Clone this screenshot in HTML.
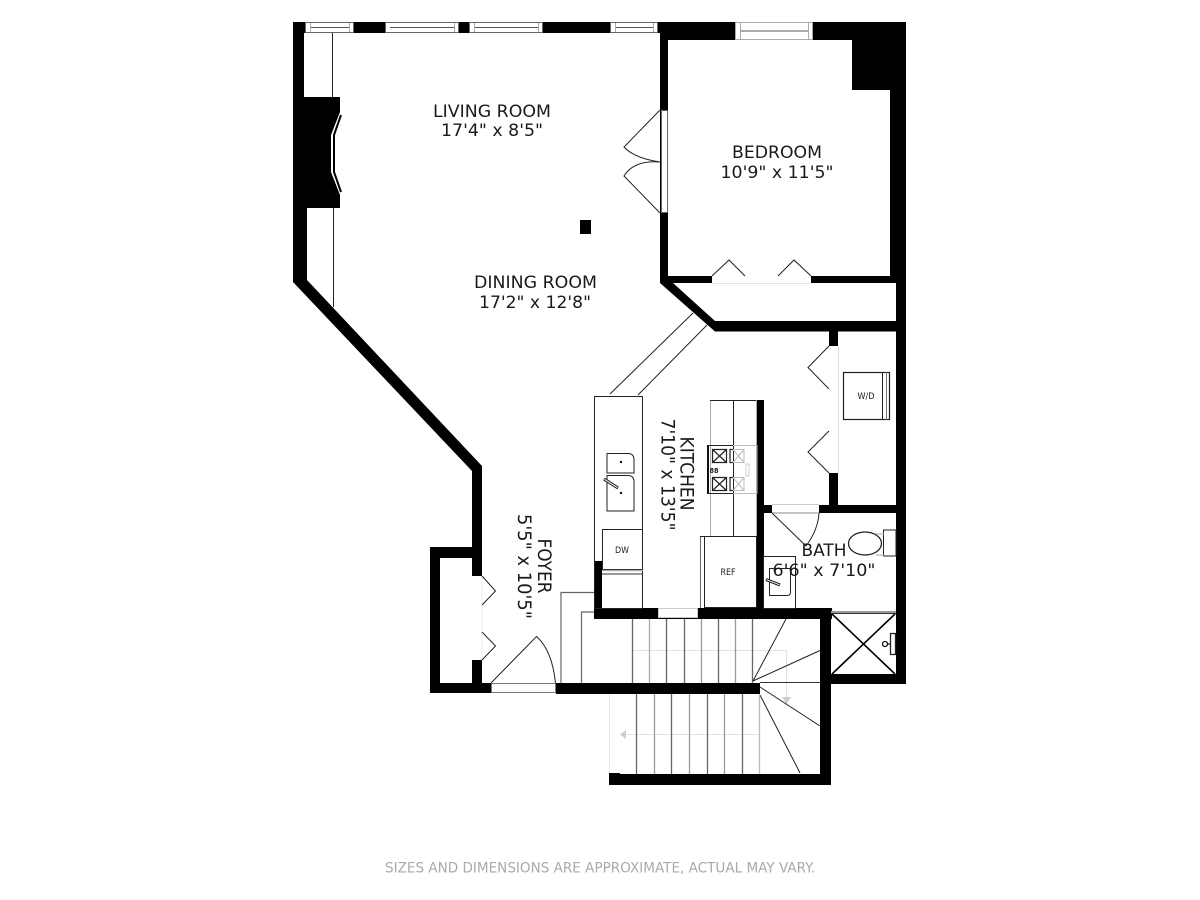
<!DOCTYPE html>
<html><head><meta charset="utf-8"><style>
html,body{margin:0;padding:0;background:#fff;width:1200px;height:900px;overflow:hidden}
svg{display:block}
text{font-family:"DejaVu Sans",sans-serif;fill:#1a1a1a;text-anchor:middle}
</style></head><body>
<svg width="1200" height="900" viewBox="0 0 1200 900" xmlns="http://www.w3.org/2000/svg">
<rect width="1200" height="900" fill="#fff"/>
<!-- walls -->
<g fill="#000">
<rect x="293" y="22" width="613" height="11"/>
<rect x="660" y="22" width="246" height="18"/>
<rect x="852" y="22" width="54" height="68"/>
<rect x="890" y="22" width="16" height="261"/>
<rect x="896" y="283" width="10" height="401"/>
<rect x="293" y="22" width="11" height="80"/>
<rect x="293" y="97" width="47" height="111"/>
<rect x="293" y="208" width="14" height="74"/>
<polygon points="293,280 307,280 482,466 482,683 472,683 472,471 293,282"/>
<rect x="660" y="22" width="8" height="261"/>
<rect x="660" y="276" width="236" height="7"/>
<polygon points="660,283 673,283 715,321 896,321 896,331.500 715,331.500"/>
<rect x="829" y="331" width="9" height="15"/>
<rect x="829" y="473" width="9" height="35"/>
<rect x="756" y="505" width="140" height="8"/>
<rect x="756" y="400" width="8" height="215"/>
<rect x="594" y="608" width="238" height="11"/>
<rect x="594" y="561" width="8" height="58"/>
<rect x="430" y="547" width="52" height="11"/>
<rect x="430" y="547" width="10" height="146"/>
<rect x="430" y="683" width="61" height="10"/>
<rect x="556" y="683" width="204" height="11"/>
<rect x="820" y="608" width="11" height="177"/>
<rect x="609" y="774" width="222" height="11"/>
<rect x="609" y="773" width="11" height="12"/>
<rect x="831" y="674" width="75" height="10"/>
<rect x="580" y="220" width="11" height="14"/>
</g>
<!-- openings -->
<g fill="#fff">
<polygon points="340,112 331,135 331,172 340,195 341,195 341,112"/>
<rect x="661" y="110" width="7" height="103"/>
<rect x="712" y="275" width="99" height="9"/>
<rect x="829" y="346" width="9" height="127"/>
<rect x="772" y="504" width="47" height="10"/>
<rect x="472" y="576" width="10" height="84"/>
<rect x="491" y="683" width="65" height="10"/>
<rect x="658" y="608" width="40" height="10"/>
</g>
<polyline points="341,115 334,135 334,172 341,192" fill="none" stroke="#000" stroke-width="2"/>
<g stroke="#999" stroke-width="1" fill="none">
<line x1="712" y1="283.500" x2="811" y2="283.500" stroke="#e4e4e4"/>
<line x1="838.500" y1="346" x2="838.500" y2="473" stroke="#ddd"/>
<line x1="772" y1="504.500" x2="819" y2="504.500" stroke="#ccc"/>
<line x1="772" y1="513" x2="819" y2="513" stroke="#888"/>
<rect x="491.500" y="683.500" width="64" height="9" stroke="#777"/>
<rect x="658.500" y="608.500" width="39" height="9" stroke="#ccc"/>
<rect x="661.500" y="110.500" width="6" height="102" stroke="#666"/>
<line x1="482" y1="576" x2="482" y2="660" stroke="#eee"/>
</g>
<!-- windows -->
<g>
<g fill="#fff" stroke="#666" stroke-width="1">
<rect x="305.500" y="22.500" width="48" height="10"/>
<rect x="385.500" y="22.500" width="73" height="10"/>
<rect x="469.500" y="22.500" width="73" height="10"/>
<rect x="610.500" y="22.500" width="47" height="10"/>
<rect x="735.500" y="22.500" width="77" height="17" stroke="#aaa"/>
</g>
<g stroke="#555" stroke-width="1">
<line x1="310" y1="27.500" x2="349" y2="27.500"/><line x1="310.500" y1="23" x2="310.500" y2="32" stroke="#aaa"/><line x1="349.500" y1="23" x2="349.500" y2="32" stroke="#aaa"/>
<line x1="390" y1="27.500" x2="454" y2="27.500"/><line x1="454.500" y1="23" x2="454.500" y2="32" stroke="#aaa"/>
<line x1="474" y1="27.500" x2="538" y2="27.500"/><line x1="474.500" y1="23" x2="474.500" y2="32" stroke="#aaa"/><line x1="538.500" y1="23" x2="538.500" y2="32" stroke="#aaa"/>
<line x1="615" y1="27.500" x2="653" y2="27.500"/><line x1="615.500" y1="23" x2="615.500" y2="32" stroke="#aaa"/><line x1="653.500" y1="23" x2="653.500" y2="32" stroke="#aaa"/>
<line x1="740" y1="31" x2="808" y2="31"/><line x1="740.500" y1="23" x2="740.500" y2="39" stroke="#aaa"/><line x1="808.500" y1="23" x2="808.500" y2="39" stroke="#aaa"/>
</g>
</g>
<!-- thin lines -->
<g stroke="#222" stroke-width="1" fill="none">
<line x1="332.500" y1="33" x2="332.500" y2="97"/>
<line x1="333.500" y1="208" x2="333.500" y2="307"/>
<line x1="610" y1="394" x2="693" y2="313"/>
<line x1="638" y1="395" x2="707" y2="325"/>
<!-- bedroom doors -->
<path d="M660,110 L624,147 Q634,158 660,162 Q634,160 624,176 L660,213"/>
<path d="M712,276 L729,260 L745,276"/>
<path d="M778,276 L794,260 L811,276"/>
<!-- closet doors -->
<path d="M829,346 L808,367.500 L829,389"/>
<path d="M829,431 L808,452 L829,473"/>
<!-- bath door -->
<path d="M772,513 L806,546 Q818,530 819,513"/>
<!-- foyer doors -->
<path d="M482,576 L495.500,591 L482,605"/>
<path d="M482,632 L495.500,646 L482,660"/>
<path d="M491,683 L536.500,636.500 Q552,650 555.500,683"/>
<!-- kitchen counter -->
<rect x="594.500" y="396.500" width="48" height="212"/>
<path d="M607,453.500 H628 Q634,453.500 634,460 V473 H607 Z" />
<path d="M607,475.500 H628 Q634,475.500 634,482 V511 H607 Z"/>
<!-- island -->
<rect x="710.500" y="400.500" width="46" height="136" stroke="#aaa" fill="none"/>
<line x1="710" y1="400.500" x2="756" y2="400.500"/>
<line x1="733.500" y1="400" x2="733.500" y2="536"/>
<!-- ref -->
<rect x="704.500" y="536.500" width="52" height="71"/>
<line x1="700.500" y1="536" x2="700.500" y2="608" stroke="#666"/>
<line x1="700" y1="536.500" x2="756" y2="536.500"/>
<!-- range -->
<rect x="708" y="445.500" width="49" height="48" stroke="#bbb"/>
<rect x="707" y="445" width="2" height="49" fill="#111" stroke="none"/>
<line x1="708" y1="445.500" x2="733" y2="445.500"/>
<line x1="708" y1="493.500" x2="733" y2="493.500"/>
<path d="M712.500,449.500 h14 v13 h-14 z M712.500,449.500 l14,13 M726.500,449.500 l-14,13" stroke-width="1.200"/>
<path d="M712.500,477.500 h14 v13 h-14 z M712.500,477.500 l14,13 M726.500,477.500 l-14,13" stroke-width="1.200"/>
<path d="M733,449.500 h-3 v13 h3 M733,477.500 h-3 v13 h3" stroke-width="1.200"/>
<path d="M733,449.500 h11 v13 h-11 M733,449.500 l11,13 M744,449.500 l-11,13" stroke="#bbb"/>
<path d="M733,477.500 h11 v13 h-11 M733,477.500 l11,13 M744,477.500 l-11,13" stroke="#bbb"/>
<rect x="746" y="464" width="3" height="12" stroke="#ccc"/>
<!-- W/D -->
<rect x="843.500" y="372.500" width="46" height="47" stroke-width="1.200"/>
<line x1="882.500" y1="372" x2="882.500" y2="420"/>
<line x1="886.500" y1="372" x2="886.500" y2="420" stroke="#777"/>
<!-- vanity -->
<rect x="763.500" y="556.500" width="32" height="52"/>
<path d="M769.500,568.500 H790.500 V592 Q790.500,595.500 787,595.500 H769.500 Z" />
<!-- toilet -->
<ellipse cx="865" cy="543.500" rx="16.500" ry="11.500" stroke-width="1.300"/>
<rect x="883.500" y="530" width="12.500" height="26"/>
<path d="M876,534 H884 M876,555 H884" stroke="#aaa"/>
</g>
<g fill="#fff" stroke="#222" stroke-width="1">
<rect x="602.500" y="529.500" width="40" height="40"/>
</g>
<line x1="602" y1="570.500" x2="643" y2="570.500" stroke="#aaa" stroke-width="1.200"/>
<line x1="602" y1="574" x2="643" y2="574" stroke="#333" stroke-width="1"/>
<!-- faucets -->
<g>
<line x1="604" y1="479" x2="618" y2="488" stroke="#111" stroke-width="3"/>
<line x1="604.500" y1="479.300" x2="617.500" y2="487.700" stroke="#fff" stroke-width="1"/>
<circle cx="621" cy="462" r="1.200" fill="#111"/>
<circle cx="621" cy="493" r="1.200" fill="#111"/>
<line x1="766" y1="579.500" x2="780" y2="585" stroke="#111" stroke-width="3"/>
<line x1="766.500" y1="579.700" x2="779.500" y2="584.800" stroke="#fff" stroke-width="1"/>
</g>
<!-- shower -->
<g>
<rect x="831" y="611" width="65" height="2" fill="#999"/>
<line x1="831" y1="613.500" x2="896" y2="613.500" stroke="#333"/>
<path d="M832,614 L895,674 M895,614 L832,674" stroke="#000" stroke-width="1.600"/>
<path d="M885,644 H891 M890.500,633.500 h5 v21 h-5 z" fill="#fff" stroke="#222" stroke-width="1.300"/>
<circle cx="885" cy="644" r="2.500" fill="#fff" stroke="#111" stroke-width="1.300"/>
</g>
<!-- foyer stair frames -->
<g stroke="#666" stroke-width="1.200" fill="none">
<path d="M561,683 V592.500 H594"/>
<path d="M581.500,683 V612 H594"/>
</g>
<!-- direction arrows -->
<g fill="none" stroke="#e2e2e2" stroke-width="1">
<path d="M632,650.500 H786.500 V700"/>
<path d="M626,734.500 H760"/>
</g>
<polygon points="782,697 791,697 786.500,704" fill="#ccc"/>
<polygon points="620,734.500 626,730 626,739" fill="#ccc"/>
<!-- stairs upper -->
<g stroke="#666" stroke-width="1.300">
<line x1="632.500" y1="619" x2="632.500" y2="683"/>
<line x1="649.500" y1="619" x2="649.500" y2="683" stroke="#aaa"/>
<line x1="666.500" y1="619" x2="666.500" y2="683"/>
<line x1="684.500" y1="619" x2="684.500" y2="683"/>
<line x1="701.500" y1="619" x2="701.500" y2="683" stroke="#999"/>
<line x1="718.500" y1="619" x2="718.500" y2="683"/>
<line x1="735.500" y1="619" x2="735.500" y2="683" stroke="#999"/>
<line x1="752.500" y1="619" x2="752.500" y2="683"/>
<line x1="760" y1="682.500" x2="820" y2="682.500" stroke="#333" stroke-width="1"/>
</g>
<g stroke="#222" stroke-width="1" fill="none">
<line x1="753" y1="681" x2="786" y2="619"/>
<line x1="753" y1="681" x2="820" y2="650.500"/>
<line x1="760" y1="687" x2="820" y2="726"/>
<line x1="760" y1="695" x2="800" y2="773"/>
</g>
<!-- stairs lower -->
<g stroke="#666" stroke-width="1.300">
<line x1="636.500" y1="694" x2="636.500" y2="774"/>
<line x1="654.500" y1="694" x2="654.500" y2="774" stroke="#999"/>
<line x1="671.500" y1="694" x2="671.500" y2="774"/>
<line x1="689.500" y1="694" x2="689.500" y2="774" stroke="#999"/>
<line x1="707.500" y1="694" x2="707.500" y2="774"/>
<line x1="724.500" y1="694" x2="724.500" y2="774" stroke="#999"/>
<line x1="742.500" y1="694" x2="742.500" y2="774"/>
<line x1="759.500" y1="694" x2="759.500" y2="774" stroke="#bbb"/>
<line x1="609.500" y1="694" x2="609.500" y2="773" stroke="#e8e8e8" stroke-width="1"/>
</g>
<!-- labels -->
<text x="492" y="117" font-size="17" textLength="118" lengthAdjust="spacingAndGlyphs">LIVING ROOM</text>
<text x="492" y="136" font-size="17" textLength="102" lengthAdjust="spacingAndGlyphs">17'4" x 8'5"</text>
<text x="535.500" y="288" font-size="17" textLength="123" lengthAdjust="spacingAndGlyphs">DINING ROOM</text>
<text x="535" y="308" font-size="17" textLength="112" lengthAdjust="spacingAndGlyphs">17'2" x 12'8"</text>
<text x="777" y="158" font-size="17" textLength="90" lengthAdjust="spacingAndGlyphs">BEDROOM</text>
<text x="777" y="178" font-size="17" textLength="113" lengthAdjust="spacingAndGlyphs">10'9" x 11'5"</text>
<text transform="translate(680.500,473.500) rotate(90)" font-size="19" textLength="74" lengthAdjust="spacingAndGlyphs">KITCHEN</text>
<text transform="translate(661.500,474.500) rotate(90)" font-size="19" textLength="112" lengthAdjust="spacingAndGlyphs">7'10" x 13'5"</text>
<text transform="translate(538,566) rotate(90)" font-size="19" textLength="55" lengthAdjust="spacingAndGlyphs">FOYER</text>
<text transform="translate(518,566.500) rotate(90)" font-size="19" textLength="105" lengthAdjust="spacingAndGlyphs">5'5" x 10'5"</text>
<text x="824" y="556" font-size="17" textLength="45" lengthAdjust="spacingAndGlyphs">BATH</text>
<text x="824" y="576" font-size="17" textLength="103" lengthAdjust="spacingAndGlyphs">6'6" x 7'10"</text>
<text x="622" y="553" font-size="8.500" textLength="14" lengthAdjust="spacingAndGlyphs">DW</text>
<text x="728" y="575" font-size="8.500" textLength="15" lengthAdjust="spacingAndGlyphs">REF</text>
<text x="866" y="399" font-size="8.500" textLength="17" lengthAdjust="spacingAndGlyphs">W/D</text>
<text x="714" y="473" font-size="7" textLength="9" lengthAdjust="spacingAndGlyphs" font-weight="bold">88</text>
<text x="600" y="872.500" font-size="14" style="fill:#aaa" textLength="430" lengthAdjust="spacingAndGlyphs">SIZES AND DIMENSIONS ARE APPROXIMATE, ACTUAL MAY VARY.</text>
</svg>
</body></html>
